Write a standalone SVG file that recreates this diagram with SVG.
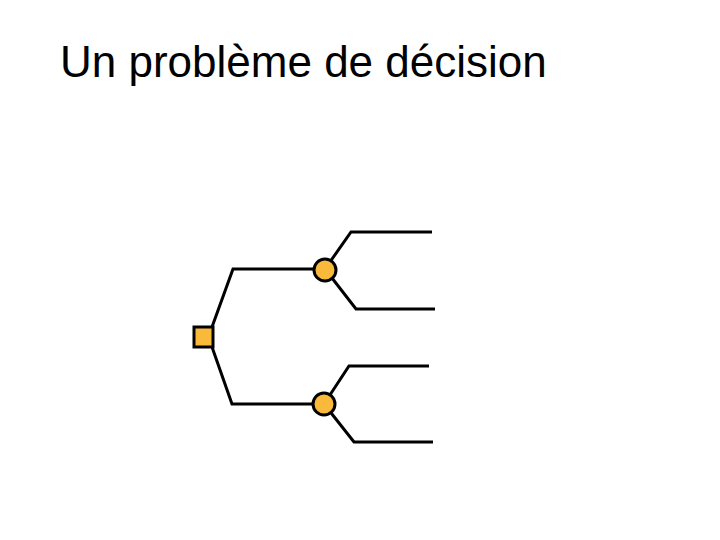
<svg xmlns="http://www.w3.org/2000/svg" width="720" height="540" viewBox="0 0 720 540">
  <style>
    .title { font-family: "Liberation Sans", Arial, sans-serif; font-size: 44px; fill: #000; }
    .edge { fill: none; stroke: #000; stroke-width: 3; stroke-linejoin: miter; }
    .node { fill: #F9B93B; stroke: #000; stroke-width: 3; }
  </style>
  <rect width="720" height="540" fill="#fff"/>
  <text class="title" x="60" y="77">Un problème de décision</text>
  <g id="connectors">
    <polyline class="edge" points="212,327 233,269 325,269"/>
    <polyline class="edge" points="212,347 232,404 324,404"/>
    <polyline class="edge" points="325,269 351,232 432,232"/>
    <polyline class="edge" points="325,269 356,309 435,309"/>
    <polyline class="edge" points="324,404 349,366 429,366"/>
    <polyline class="edge" points="324,404 354,442 433,442"/>
  </g>
  <g id="decision">
    <rect class="node" x="194" y="327" width="19" height="20"/>
  </g>
  <g id="chance1">
    <circle class="node" cx="325" cy="270" r="11"/>
  </g>
  <g id="chance2">
    <circle class="node" cx="324" cy="404" r="11"/>
  </g>
</svg>
